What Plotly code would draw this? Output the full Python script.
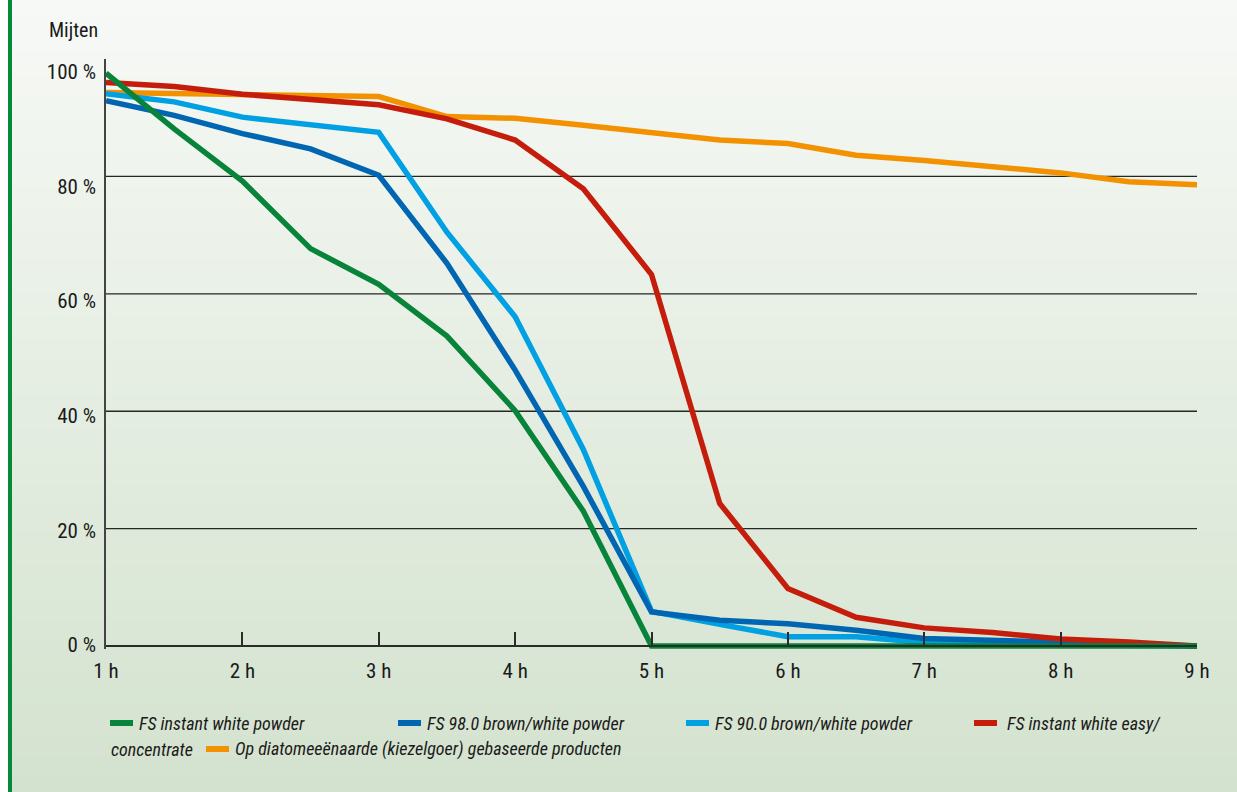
import base64
import struct
import zlib

import plotly.graph_objects as go

# ---------------- data ----------------
hours = [1, 1.5, 2, 2.5, 3, 3.5, 4, 4.5, 5, 5.5, 6, 6.5, 7, 7.5, 8, 8.5, 9]
hour_ticks = [1, 2, 3, 4, 5, 6, 7, 8, 9]
hour_labels = ["1 h", "2 h", "3 h", "4 h", "5 h", "6 h", "7 h", "8 h", "9 h"]
pct_ticks = [0, 20, 40, 60, 80, 100]
pct_labels = ["0 %", "20 %", "40 %", "60 %", "80 %", "100 %"]
grid_values = [20, 40, 60, 80]

fs_instant_white_powder = [97.6, 88.1, 79.2, 67.7, 61.6, 52.8, 40.1, 23.0, 0, 0, 0, 0, 0, 0, 0, 0, 0]
fs_98_brown_white = [92.9, 90.4, 87.3, 84.7, 80.2, 65.2, 47.0, 27.2, 5.8, 4.4, 3.8, 2.7, 1.3, 0.9, 0.6, 0.3, 0]
fs_90_brown_white = [94.1, 92.7, 90.1, 88.7, 87.5, 70.5, 56.1, 33.5, 5.9, 3.7, 1.6, 1.6, 0.6, 0.4, 0.3, 0.2, 0]
fs_instant_white_easy = [96.0, 95.3, 94.0, 93.2, 92.2, 89.8, 86.2, 77.9, 63.3, 24.3, 9.8, 4.9, 3.1, 2.3, 1.2, 0.7, 0]
diatomee = [94.3, 94.1, 93.8, 93.7, 93.6, 90.2, 89.9, 88.7, 87.5, 86.2, 85.6, 83.6, 82.7, 81.7, 80.6, 79.1, 78.6]

series_names = [
    "FS instant white powder",
    "FS 98.0 brown/white powder",
    "FS 90.0 brown/white powder",
    "FS instant white easy/concentrate",
    "Op diatomeeënaarde (kiezelgoer) gebaseerde producten",
]
series_colors = ["#07843a", "#0066b2", "#00a0e2", "#c51d0c", "#f39200"]

# ---------------- layout geometry ----------------
W, H = 1237, 792
ML, MT = 106, 59
PW, PH = 1091, 590
MR, MB = W - ML - PW, H - MT - PH
Y_RANGE = [-0.5, 100]
X_RANGE = [1, 9]
# the original's % labels sit progressively a little below their gridlines:
# label "0 %" centred at 645 px, label "100 %" centred at 71.7 px
LBL_Y0, LBL_Y100 = 645.0, 71.7
lbl_scale = (LBL_Y0 - LBL_Y100) / 100.0
LABEL_RANGE = [(LBL_Y0 - (MT + PH)) / lbl_scale, (LBL_Y0 - MT) / lbl_scale]

FONT = "Liberation Sans Narrow, Roboto Condensed, DejaVu Sans Condensed, Arial Narrow, sans-serif"
TXT = "#1a1a1a"


def px_x(p):
    """screen x pixel -> paper x"""
    return (p - ML) / PW


def px_y(p):
    """screen y pixel -> paper y"""
    return 1 - (p - MT) / PH


def gradient_png(top, bottom, h=256):
    raw = b""
    for i in range(h):
        t = i / (h - 1)
        c = bytes(round(top[k] + (bottom[k] - top[k]) * t) for k in range(3))
        raw += b"\x00" + c

    def chunk(tag, data):
        return (struct.pack(">I", len(data)) + tag + data
                + struct.pack(">I", zlib.crc32(tag + data) & 0xFFFFFFFF))

    png = (b"\x89PNG\r\n\x1a\n"
           + chunk(b"IHDR", struct.pack(">IIBBBBB", 1, h, 8, 2, 0, 0, 0))
           + chunk(b"IDAT", zlib.compress(raw))
           + chunk(b"IEND", b""))
    return "data:image/png;base64," + base64.b64encode(png).decode()


fig = go.Figure()

series = [fs_instant_white_powder, fs_98_brown_white, fs_90_brown_white,
          fs_instant_white_easy, diatomee]
draw_order = [4, 2, 1, 3, 0]
for i in draw_order:
    fig.add_trace(go.Scatter(
        x=hours, y=series[i], mode="lines", name=series_names[i],
        line=dict(color=series_colors[i], width=5.5, shape="linear"),
        showlegend=False, hoverinfo="x+y+name",
    ))
# empty helper trace so the label axis is drawn
fig.add_trace(go.Scatter(x=[hours[0]], y=[None], yaxis="y2", mode="lines",
                         showlegend=False, hoverinfo="skip"))

# gridlines (from grid_values, through the y scale)
shapes = []
for g in grid_values:
    shapes.append(dict(type="line", xref="x domain", yref="y", x0=0, x1=1, y0=g, y1=g,
                       line=dict(color="#262626", width=1.4), layer="below"))

# left green border
shapes.append(dict(type="rect", xref="paper", yref="paper",
                   x0=px_x(8), x1=px_x(12), y0=px_y(H), y1=px_y(0),
                   fillcolor="#07893a", line=dict(width=0), layer="above"))

# custom legend (wrapped like the original)
legend_items = [
    # (series index, swatch x0, swatch x1, text x, row y)  -- screen pixels
    (0, 110, 133, 137, 723),
    (1, 398, 421, 425, 723),
    (2, 686, 709, 713, 723),
    (3, 974, 997, 1005, 723),
    (4, 206, 229, 233, 749),
]
annotations = []
legend_texts = {0: series_names[0], 1: series_names[1], 2: series_names[2],
                3: "FS instant white easy/", 4: series_names[4]}
for idx, sx0, sx1, tx, ry in legend_items:
    shapes.append(dict(type="line", xref="paper", yref="paper",
                       x0=px_x(sx0), x1=px_x(sx1), y0=px_y(ry), y1=px_y(ry),
                       line=dict(color=series_colors[idx], width=6), layer="above"))
    annotations.append(dict(xref="paper", yref="paper", x=px_x(tx), y=px_y(ry),
                            xanchor="left", yanchor="middle", showarrow=False,
                            text="<i>%s</i>" % legend_texts[idx],
                            font=dict(family=FONT, size=18, color=TXT)))
annotations.append(dict(xref="paper", yref="paper", x=px_x(109), y=px_y(749),
                        xanchor="left", yanchor="middle", showarrow=False,
                        text="<i>concentrate</i>",
                        font=dict(family=FONT, size=18, color=TXT)))
# axis title
annotations.append(dict(xref="paper", yref="paper", x=px_x(47), y=px_y(30),
                        xanchor="left", yanchor="middle", showarrow=False,
                        text="Mijten", font=dict(family=FONT, size=20, color=TXT)))

fig.update_layout(
    width=W, height=H,
    margin=dict(l=ML, r=MR, t=MT, b=MB, pad=0),
    paper_bgcolor="#ffffff",
    plot_bgcolor="rgba(0,0,0,0)",
    showlegend=False,
    hovermode=False,
    shapes=shapes,
    annotations=annotations,
    images=[dict(source=gradient_png((247, 249, 246), (211, 226, 206)),
                 xref="paper", yref="paper",
                 x=px_x(12), y=px_y(0), sizex=(W - 12) / PW, sizey=H / PH,
                 xanchor="left", yanchor="top", sizing="stretch", layer="below")],
    xaxis=dict(
        range=X_RANGE, tickvals=hour_ticks, ticktext=hour_labels,
        anchor="free", position=(0 - Y_RANGE[0]) / (Y_RANGE[1] - Y_RANGE[0]),
        showline=True, linecolor="#2b2b2b", linewidth=2,
        ticks="inside", ticklen=13, tickwidth=1.5, tickcolor="#2b2b2b",
        showgrid=False, zeroline=False, ticklabelstandoff=6,
        tickfont=dict(family=FONT, size=21, color=TXT),
    ),
    yaxis=dict(
        range=Y_RANGE, tickvals=pct_ticks, showticklabels=False,
        showline=True, linecolor="#444444", linewidth=2,
        ticks="", showgrid=False, zeroline=False,
    ),
    yaxis2=dict(
        range=LABEL_RANGE, tickvals=pct_ticks, ticktext=pct_labels,
        overlaying="y", side="left", anchor="x",
        showline=False, ticks="", showgrid=False, zeroline=False,
        ticklabelstandoff=9, fixedrange=True,
        tickfont=dict(family=FONT, size=21, color=TXT),
    ),
)

fig.write_html(
    "out.html",
    config={"displayModeBar": False, "staticPlot": False},
    post_script=("document.body.style.margin='0';"
                 "document.documentElement.style.overflow='hidden';"
                 "document.body.style.overflow='hidden';"),
)
